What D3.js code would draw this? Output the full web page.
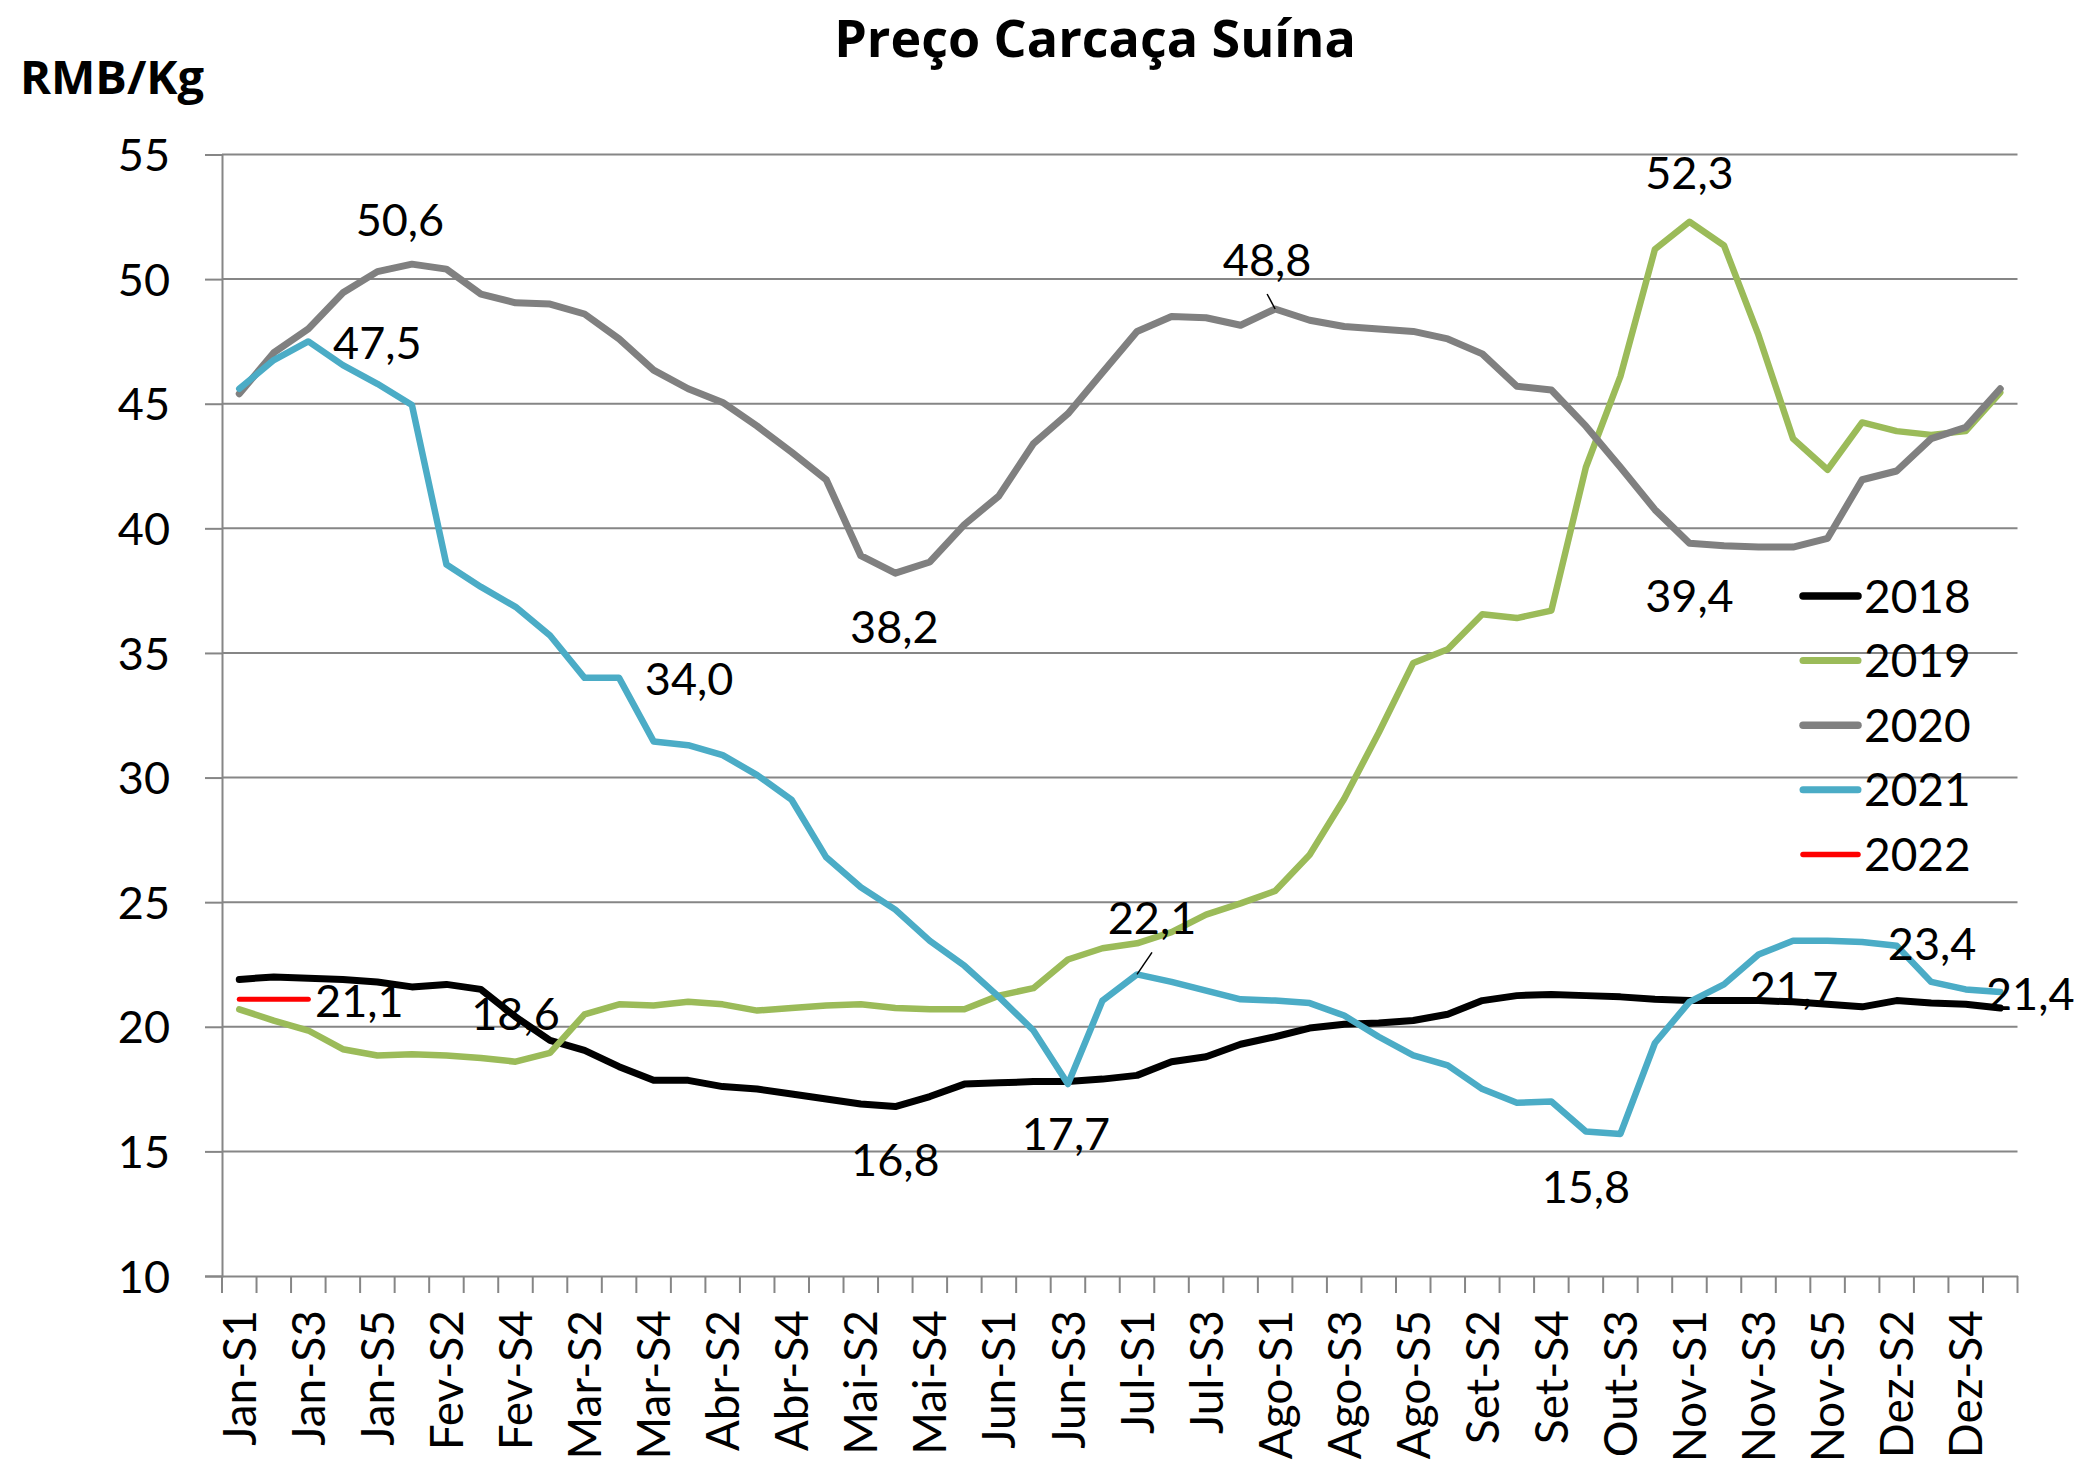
<!DOCTYPE html>
<html>
<head>
<meta charset="utf-8">
<script src="https://cdn.jsdelivr.net/npm/d3@7"></script>
<style>
  html, body { margin: 0; padding: 0; background: #ffffff; }
  svg { display: block; }
</style>
</head>
<body>
<svg id="chart" width="2082" height="1463"></svg>
<script>
// ---------------- DATA ----------------
const categories = [
  "Jan-S1","Jan-S2","Jan-S3","Jan-S4","Jan-S5",
  "Fev-S1","Fev-S2","Fev-S3","Fev-S4",
  "Mar-S1","Mar-S2","Mar-S3","Mar-S4",
  "Abr-S1","Abr-S2","Abr-S3","Abr-S4",
  "Mai-S1","Mai-S2","Mai-S3","Mai-S4","Mai-S5",
  "Jun-S1","Jun-S2","Jun-S3","Jun-S4",
  "Jul-S1","Jul-S2","Jul-S3","Jul-S4",
  "Ago-S1","Ago-S2","Ago-S3","Ago-S4","Ago-S5",
  "Set-S1","Set-S2","Set-S3","Set-S4",
  "Out-S2","Out-S3","Out-S4",
  "Nov-S1","Nov-S2","Nov-S3","Nov-S4","Nov-S5",
  "Dez-S1","Dez-S2","Dez-S3","Dez-S4","Dez-S5"
];

const values2018 = [21.9, 22.0, 21.95, 21.9, 21.8, 21.6, 21.7, 21.5, 20.4, 19.45,
  19.05, 18.4, 17.85, 17.85, 17.6, 17.5, 17.3, 17.1, 16.9, 16.8,
  17.2, 17.7, 17.75, 17.8, 17.8, 17.9, 18.05, 18.6, 18.8, 19.3,
  19.6, 19.95, 20.1, 20.15, 20.25, 20.5, 21.05, 21.25, 21.3, 21.25,
  21.2, 21.1, 21.05, 21.05, 21.05, 21.0, 20.9, 20.8, 21.05, 20.95,
  20.9, 20.75];

const values2019 = [20.7, 20.25, 19.85, 19.1, 18.85, 18.9, 18.85, 18.75, 18.6, 18.95,
  20.5, 20.9, 20.85, 21.0, 20.9, 20.65, 20.75, 20.85, 20.9, 20.75,
  20.7, 20.7, 21.25, 21.55, 22.7, 23.15, 23.35, 23.8, 24.5, 24.95,
  25.45, 26.9, 29.15, 31.8, 34.6, 35.15, 36.55, 36.4, 36.7, 42.45,
  46.1, 51.2, 52.3, 51.35, 47.75, 43.6, 42.35, 44.25, 43.9, 43.75,
  43.9, 45.45];

const values2020 = [45.4, 47.05, 48.0, 49.45, 50.3, 50.6, 50.4, 49.4, 49.05, 49.0,
  48.6, 47.6, 46.35, 45.6, 45.05, 44.1, 43.05, 41.95, 38.9, 38.2,
  38.65, 40.15, 41.3, 43.4, 44.6, 46.25, 47.9, 48.5, 48.45, 48.15,
  48.8, 48.35, 48.1, 48.0, 47.9, 47.6, 47.0, 45.7, 45.55, 44.1,
  42.45, 40.75, 39.4, 39.3, 39.25, 39.25, 39.6, 41.95, 42.3, 43.6,
  44.05, 45.6];

const values2021 = [45.6, 46.75, 47.5, 46.55, 45.8, 44.95, 38.55, 37.65, 36.85, 35.7,
  34.0, 34.0, 31.45, 31.3, 30.9, 30.1, 29.1, 26.8, 25.6, 24.7,
  23.45, 22.45, 21.2, 19.85, 17.7, 21.05, 22.1, 21.8, 21.45, 21.1,
  21.05, 20.95, 20.45, 19.6, 18.85, 18.45, 17.5, 16.95, 17.0, 15.8,
  15.7, 19.35, 21.0, 21.7, 22.9, 23.45, 23.45, 23.4, 23.25, 21.8,
  21.5, 21.4];

const values2022 = [21.1, 21.1, 21.1];

const seriesNames = ["2018", "2019", "2020", "2021", "2022"];
const seriesValues = [values2018, values2019, values2020, values2021, values2022];

const yTickValues = [10, 15, 20, 25, 30, 35, 40, 45, 50, 55];

// data labels: which point is labelled (text comes from the value)
const labelledPoints = [
  { year: "2020", index: 5 },
  { year: "2021", index: 2 },
  { year: "2021", index: 11 },
  { year: "2022", index: 2 },
  { year: "2019", index: 8 },
  { year: "2020", index: 30 },
  { year: "2020", index: 19 },
  { year: "2018", index: 19 },
  { year: "2021", index: 24 },
  { year: "2021", index: 26 },
  { year: "2019", index: 42 },
  { year: "2020", index: 42 },
  { year: "2021", index: 39 },
  { year: "2021", index: 43 },
  { year: "2021", index: 47 },
  { year: "2021", index: 51 }
];

// ---------------- STYLE / LAYOUT ----------------
const seriesStyle = {
  "2018": { color: "#000000", width: 7 },
  "2019": { color: "#9BBB59", width: 6.5 },
  "2020": { color: "#808080", width: 7 },
  "2021": { color: "#4BACC6", width: 6.5 },
  "2022": { color: "#FF0000", width: 5 }
};
// label offsets relative to their point (label centre x, baseline y)
const labelOffsets = [
  { dx: -12, dy: -28 },
  { dx: 69, dy: 18 },
  { dx: 70, dy: 17 },
  { dx: 51, dy: 18 },
  { dx: 0, dy: -32 },
  { dx: -8, dy: -33, leader: true },
  { dx: -1, dy: 70 },
  { dx: 0, dy: 69 },
  { dx: -2, dy: 66 },
  { dx: 15, dy: -40, leader: true },
  { dx: 0, dy: -33 },
  { dx: 0, dy: 69 },
  { dx: 0, dy: 72 },
  { dx: 70, dy: 20 },
  { dx: 70, dy: 18 },
  { dx: 30, dy: 18 }
];

const plot = { left: 222, right: 2017.5, top: 154.5, bottom: 1276 };
const gridColor = "#868686";
const fontMain = "Lato, 'Open Sans', sans-serif";
const fontBold = "'Open Sans', Lato, sans-serif";

const svg = d3.select("#chart");
svg.append("rect").attr("width", 2082).attr("height", 1463).attr("fill", "#fff");

const x = d3.scaleBand().domain(categories).range([plot.left, plot.right]).padding(0);
const cx = i => x(categories[i]) + x.bandwidth() / 2;
const y = d3.scaleLinear().domain([10, 55]).range([plot.bottom, plot.top]);

const fmt = d3.formatLocale({ decimal: ",", thousands: ".", grouping: [3], currency: ["", ""] }).format(".1f");

// gridlines
svg.append("g").selectAll("line")
  .data(yTickValues.filter(v => v > 10))
  .join("line")
  .attr("x1", plot.left).attr("x2", plot.right)
  .attr("y1", d => y(d)).attr("y2", d => y(d))
  .attr("stroke", gridColor).attr("stroke-width", 2);

// y axis
const yAxis = svg.append("g")
  .attr("transform", `translate(${plot.left},0)`)
  .call(d3.axisLeft(y).tickValues(yTickValues).tickSize(17).tickPadding(35).tickFormat(d3.format("d")));
yAxis.select(".domain").attr("stroke", gridColor).attr("stroke-width", 2);
yAxis.selectAll(".tick line").attr("stroke", gridColor).attr("stroke-width", 2);
yAxis.selectAll(".tick text")
  .attr("font-family", fontMain).attr("font-size", 45).attr("fill", "#000").attr("dy", "0.36em");

// x axis
const xAxis = svg.append("g")
  .attr("transform", `translate(0,${plot.bottom})`)
  .call(d3.axisBottom(x).tickValues(categories.filter((c, i) => i % 2 === 0)).tickSize(0).tickSizeOuter(0));
xAxis.select(".domain").attr("stroke", gridColor).attr("stroke-width", 2);
xAxis.selectAll(".tick text")
  .attr("font-family", fontMain).attr("font-size", 46).attr("fill", "#000")
  .attr("transform", "rotate(-90)")
  .attr("x", -34).attr("y", 0).attr("dy", "0.36em")
  .style("text-anchor", "end");
// boundary ticks
xAxis.append("g").selectAll("line")
  .data(d3.range(categories.length + 1))
  .join("line")
  .attr("x1", i => plot.left + i * x.step()).attr("x2", i => plot.left + i * x.step())
  .attr("y1", 0).attr("y2", 17)
  .attr("stroke", gridColor).attr("stroke-width", 2);

// lines
const line = d3.line().x((d, i) => cx(i)).y(d => y(d)).curve(d3.curveLinear);
seriesNames.forEach((name, k) => {
  svg.append("path")
    .datum(seriesValues[k])
    .attr("d", line)
    .attr("fill", "none")
    .attr("stroke", seriesStyle[name].color)
    .attr("stroke-width", seriesStyle[name].width)
    .attr("stroke-linejoin", "round")
    .attr("stroke-linecap", "round");
});

// data labels
const labelsG = svg.append("g");
labelledPoints.forEach((p, k) => {
  const vals = seriesValues[seriesNames.indexOf(p.year)];
  const v = vals[p.index];
  const px = cx(p.index), py = y(v);
  const off = labelOffsets[k];
  const lx = px + off.dx, ly = py + off.dy;
  if (off.leader) {
    labelsG.append("line")
      .attr("x1", px).attr("y1", py)
      .attr("x2", lx).attr("y2", ly + 18)
      .attr("stroke", "#000").attr("stroke-width", 1.5);
  }
  labelsG.append("text")
    .attr("x", lx).attr("y", ly)
    .attr("text-anchor", "middle")
    .attr("font-family", fontMain).attr("font-size", 45).attr("fill", "#000")
    .text(fmt(v));
});

// legend
const legend = svg.append("g").attr("transform", "translate(1803,596)");
seriesNames.forEach((name, k) => {
  const g = legend.append("g").attr("transform", `translate(0,${k * 64.6})`);
  g.append("line").attr("x1", 0).attr("x2", 55).attr("y1", 0).attr("y2", 0)
    .attr("stroke", seriesStyle[name].color)
    .attr("stroke-width", seriesStyle[name].width + 0.5)
    .attr("stroke-linecap", "round");
  g.append("text").attr("x", 61).attr("y", 16.5)
    .attr("font-family", fontMain).attr("font-size", 46).attr("fill", "#000")
    .text(name);
});

// title and axis unit
svg.append("text")
  .attr("x", 1095).attr("y", 57)
  .attr("text-anchor", "middle")
  .attr("font-family", fontBold).attr("font-weight", "bold").attr("font-size", 52)
  .attr("fill", "#000")
  .text("Preço Carcaça Suína");

svg.append("text")
  .attr("x", 20).attr("y", 94)
  .attr("font-family", fontBold).attr("font-weight", "bold").attr("font-size", 47)
  .attr("fill", "#000")
  .text("RMB/Kg");
</script>
</body>
</html>
